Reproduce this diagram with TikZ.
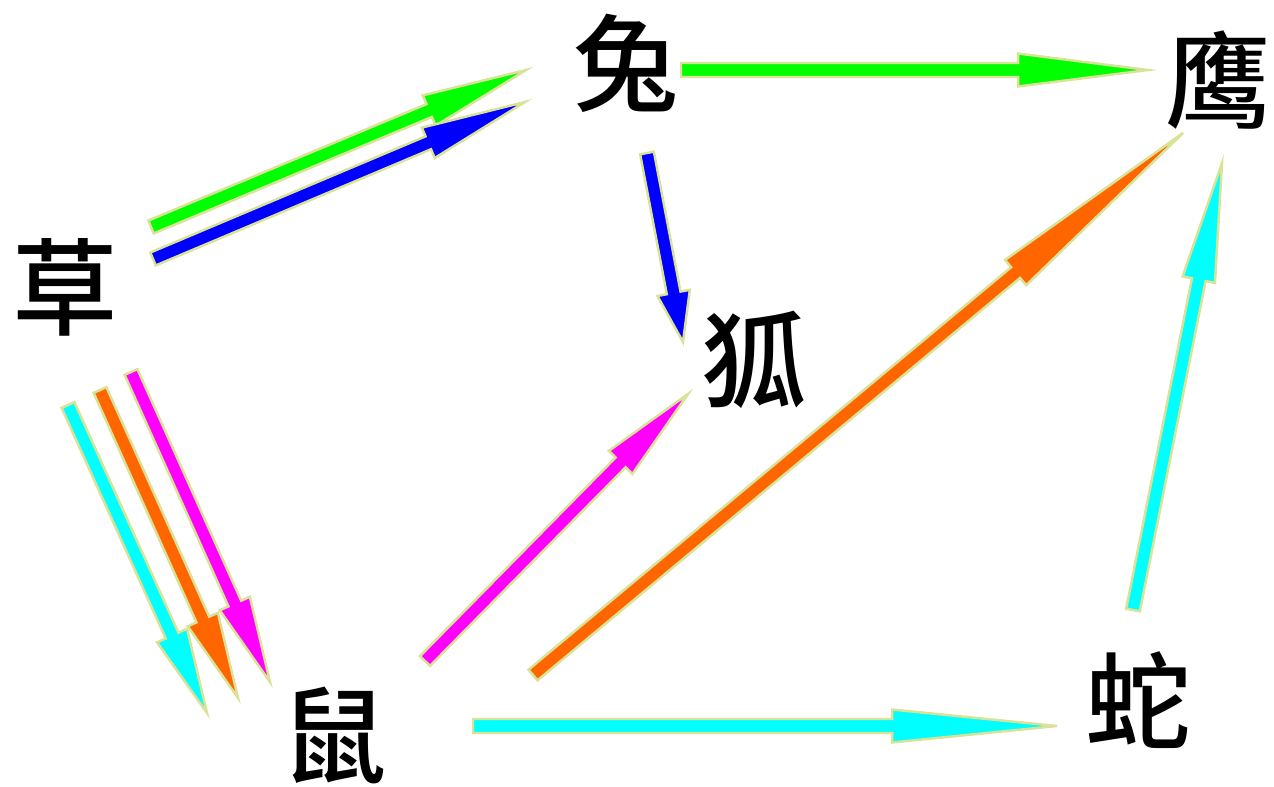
\documentclass[tikz,border=0pt]{standalone}
\usepackage{fontspec}
\newfontfamily\cjk{Noto Sans CJK SC}[UprightFont={* Medium}]
\usetikzlibrary{calc}

\definecolor{rim}{RGB}{218,226,152}
\definecolor{grass}{RGB}{0,255,0}
\definecolor{sea}{RGB}{0,255,255}
\definecolor{carrot}{RGB}{255,102,0}
\definecolor{pink}{RGB}{255,0,255}

\tikzset{
  animal/.style={inner sep=0pt, font=\cjk\fontsize{60}{60}\selectfont},
  webarrow/.style={draw=rim, line width=1.4pt, line join=miter}
}

% block arrow: tail, tip, colour, head length
\newcommand\foodlink[4]{%
  \coordinate (hb) at ($(#2)!#4!(#1)$);
  \filldraw[webarrow, fill=#3]
    ($(#1)!0.14cm!90:(#2)$) -- ($(hb)!0.14cm!90:(#2)$) -- ($(hb)!0.33cm!90:(#2)$)
    -- (#2)
    -- ($(hb)!0.33cm!-90:(#2)$) -- ($(hb)!0.14cm!-90:(#2)$) -- ($(#1)!0.14cm!-90:(#2)$)
    -- cycle;}

\begin{document}
\begin{tikzpicture}[x=0.02cm, y=-0.02cm]

  \useasboundingbox (0,0) rectangle (1274,787);

  \node[animal] (cao)  at (65,287)   {草};
  \node[animal] (tu)   at (626,63)   {兔};
  \node[animal] (ying) at (1218,80)  {鹰};
  \node[animal] (hu)   at (754,360)  {狐};
  \node[animal] (shu)  at (334,735)  {鼠};
  \node[animal] (she)  at (1138,700) {蛇};

  % arrow ends
  \coordinate (cao-tu-a) at (151,227);  \coordinate (tu-a)   at (526,70);
  \coordinate (cao-tu-b) at (153,259);  \coordinate (tu-b)   at (525,102);
  \coordinate (tu-hu)    at (647,153);  \coordinate (hu-a)   at (683,342);
  \coordinate (tu-ying)  at (681,70);   \coordinate (ying-a) at (1148,70);
  \coordinate (cao-shu-a) at (68,405);  \coordinate (shu-a)  at (207,713);
  \coordinate (cao-shu-b) at (100,390); \coordinate (shu-b)  at (238,698);
  \coordinate (cao-shu-c) at (131,372); \coordinate (shu-c)  at (270,682);
  \coordinate (shu-hu)   at (425,661);  \coordinate (hu-b)   at (688,394);
  \coordinate (shu-ying) at (533,675);  \coordinate (ying-b) at (1183,133);
  \coordinate (shu-she)  at (473,726);  \coordinate (she-a)  at (1057,726);
  \coordinate (she-ying) at (1133,610); \coordinate (ying-c) at (1222,163);

  \foodlink{cao-tu-a}{tu-a}{grass}{2.1cm}
  \foodlink{cao-tu-b}{tu-b}{blue}{2.1cm}
  \foodlink{tu-hu}{hu-a}{blue}{1.0cm}
  \foodlink{tu-ying}{ying-a}{grass}{2.6cm}
  \foodlink{cao-shu-a}{shu-a}{sea}{1.7cm}
  \foodlink{cao-shu-b}{shu-b}{carrot}{1.72cm}
  \foodlink{cao-shu-c}{shu-c}{pink}{1.72cm}
  \foodlink{shu-hu}{hu-b}{pink}{1.92cm}
  \foodlink{shu-ying}{ying-b}{carrot}{4.36cm}
  \foodlink{shu-she}{she-a}{sea}{3.3cm}
  \foodlink{she-ying}{ying-c}{sea}{2.38cm}

\end{tikzpicture}
\end{document}
